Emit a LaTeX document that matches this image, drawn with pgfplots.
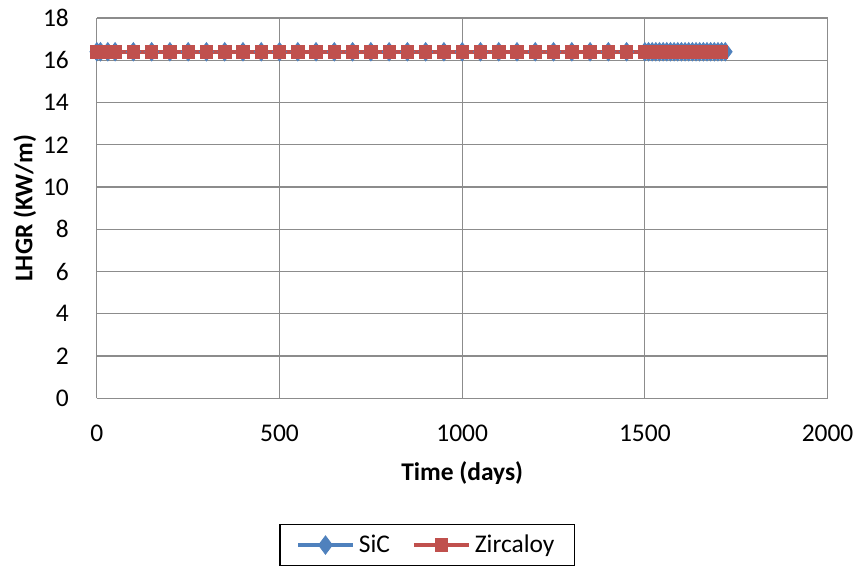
\documentclass[border=0pt]{standalone}
\usepackage{pgfplots}
\pgfplotsset{compat=1.18}
\usepackage{fontspec}
\setmainfont{Carlito}
\definecolor{sicblue}{HTML}{4F81BD}
\definecolor{zrred}{HTML}{C0504D}
\begin{document}
\begin{tikzpicture}
\begin{axis}[name=ax,
  scale only axis, width=366bp, height=190.5bp,
  xmin=0, xmax=2000, ymin=0, ymax=18,
  xtick={0,500,...,2000}, ytick={0,2,...,18},
  grid=major, major grid style={draw=black!45, line width=0.6pt},
  axis lines*=left, axis line style={draw=black!45, line width=0.6pt},
  tick style={draw=none},
  /pgf/number format/assume math mode=true,
  /pgf/number format/1000 sep={},
  ticklabel style={font=\fontsize{12.8}{15}\selectfont},
  xticklabel style={anchor=center, yshift=-17.5bp},
  yticklabel style={anchor=east, xshift=-10.5bp},
  xlabel={\textbf{Time (days)}}, ylabel={\textbf{LHGR (KW/m)}},
  label style={font=\fontsize{12.8}{15}\selectfont},
  xlabel style={at={(axis description cs:0.5,0)}, anchor=center, yshift=-37.5bp},
  ylabel style={at={(axis description cs:0,0.5)}, anchor=center, yshift=36bp},
  legend style={at={(rel axis cs:0.5,0)}, anchor=center, xshift=-17.5bp, yshift=-73.5bp,
    draw=black, line width=0.6pt, font=\fontsize{12.8}{15}\selectfont,
    legend columns=2, /tikz/every even column/.append style={column sep=9bp},
    inner ysep=3bp, inner xsep=8bp},
  legend image code/.code={
    \draw[#1, mark=none] (0bp,0bp) -- (27.5bp,0bp);
    \draw[#1, only marks] plot coordinates {(13.75bp,0bp)};
  },
  clip=false,
]
\addplot[sicblue, line width=2pt, mark=diamond*, mark size=4.6bp, mark options={solid, line width=0.4pt}]
coordinates {
(0,16.4)(10,16.4)(30,16.4)(50,16.4)(100,16.4)(150,16.4)(200,16.4)(250,16.4)(300,16.4)(350,16.4)
(400,16.4)(450,16.4)(500,16.4)(550,16.4)(600,16.4)(650,16.4)(700,16.4)(750,16.4)(800,16.4)(850,16.4)
(900,16.4)(950,16.4)(1000,16.4)(1050,16.4)(1100,16.4)(1150,16.4)(1200,16.4)(1250,16.4)(1300,16.4)(1350,16.4)
(1400,16.4)(1450,16.4)(1500,16.4)(1510,16.4)(1520,16.4)(1530,16.4)(1540,16.4)(1550,16.4)(1560,16.4)(1570,16.4)
(1580,16.4)(1590,16.4)(1600,16.4)(1610,16.4)(1620,16.4)(1630,16.4)(1640,16.4)(1650,16.4)(1660,16.4)(1670,16.4)
(1680,16.4)(1690,16.4)(1700,16.4)(1710,16.4)(1720,16.4)
};
\addlegendentry{SiC}
\addplot[zrred, line width=2pt, mark=square*, mark size=3.1bp, mark options={solid, line width=0.4pt}]
coordinates {
(0,16.4)(10,16.4)(30,16.4)(50,16.4)(100,16.4)(150,16.4)(200,16.4)(250,16.4)(300,16.4)(350,16.4)
(400,16.4)(450,16.4)(500,16.4)(550,16.4)(600,16.4)(650,16.4)(700,16.4)(750,16.4)(800,16.4)(850,16.4)
(900,16.4)(950,16.4)(1000,16.4)(1050,16.4)(1100,16.4)(1150,16.4)(1200,16.4)(1250,16.4)(1300,16.4)(1350,16.4)
(1400,16.4)(1450,16.4)(1500,16.4)(1510,16.4)(1520,16.4)(1530,16.4)(1540,16.4)(1550,16.4)(1560,16.4)(1570,16.4)
(1580,16.4)(1590,16.4)(1600,16.4)(1610,16.4)(1620,16.4)(1630,16.4)(1640,16.4)(1650,16.4)(1660,16.4)(1670,16.4)
(1680,16.4)(1690,16.4)(1700,16.4)(1710,16.4)
};
\addlegendentry{Zircaloy}
\end{axis}
\useasboundingbox ([xshift=-48.5bp,yshift=-86bp]ax.south west) rectangle ([xshift=15.5bp,yshift=9bp]ax.north east);
\end{tikzpicture}
\end{document}
